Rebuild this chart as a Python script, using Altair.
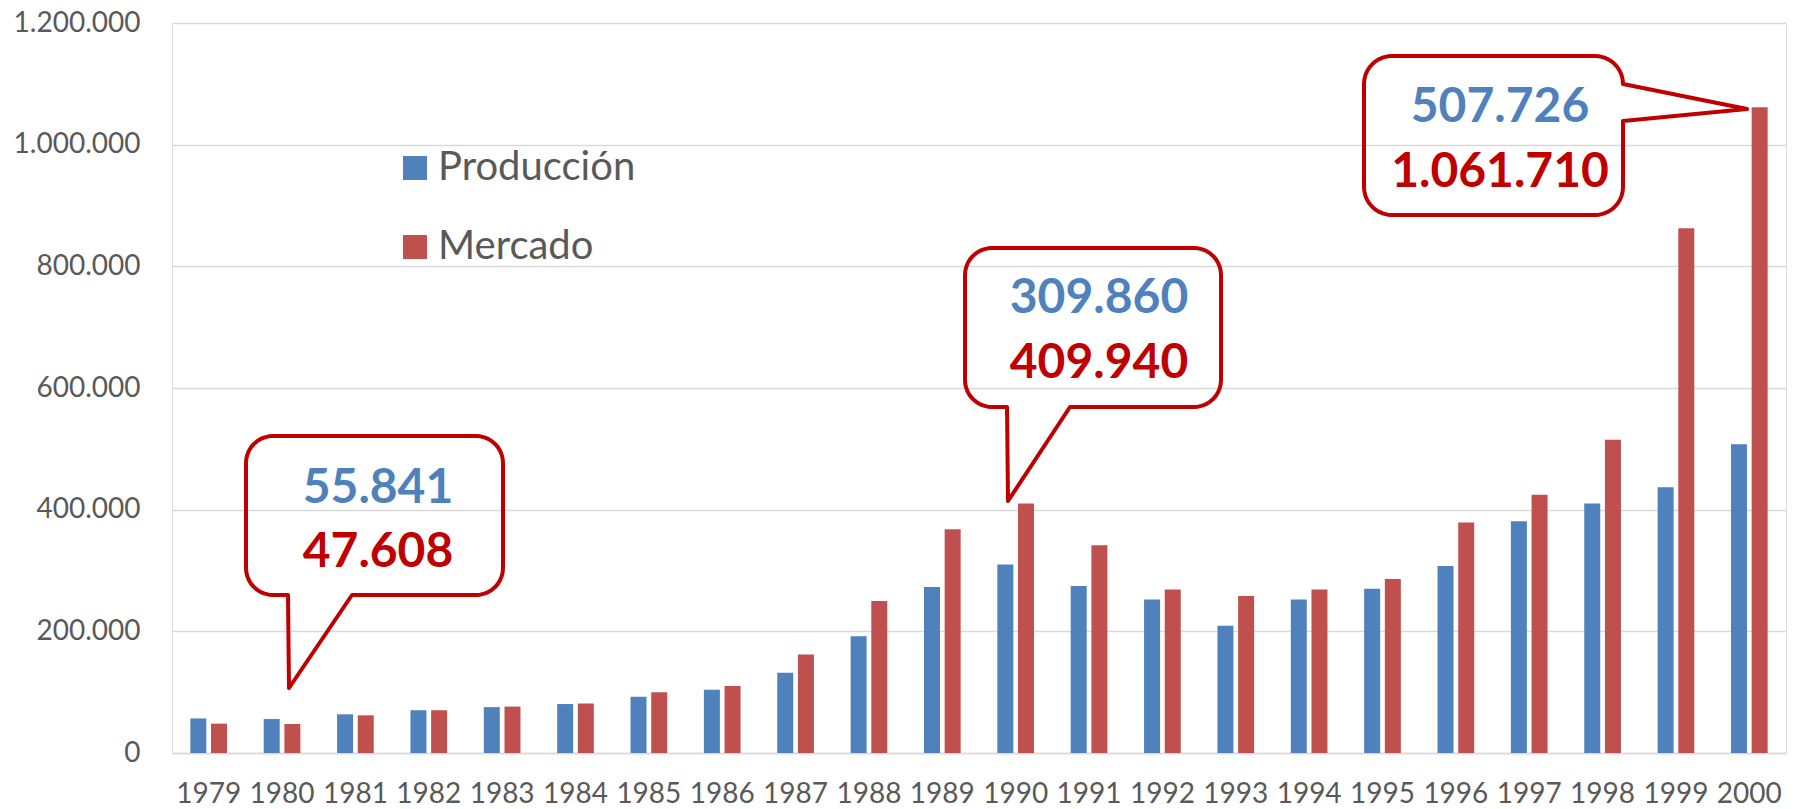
import math
import altair as alt
import pandas as pd

# ---- data ----
years = ["1979", "1980", "1981", "1982", "1983", "1984", "1985", "1986", "1987", "1988", "1989",
         "1990", "1991", "1992", "1993", "1994", "1995", "1996", "1997", "1998", "1999", "2000"]
produccion = [56800, 55841, 63600, 70300, 75400, 80500, 92400, 104000, 132000, 192000, 273000,
              309860, 274600, 252500, 209000, 252500, 270000, 307600, 381000, 410000, 437000, 507726]
mercado = [48300, 47608, 61900, 70300, 76300, 81400, 100000, 110000, 162000, 250000, 368000,
           409940, 341500, 268600, 258000, 268600, 286000, 378800, 424600, 515000, 862700, 1061710]
series = ["Producción", "Mercado"]
colors = ["#4F81BD", "#C0504D"]
y_ticks = [0, 200000, 400000, 600000, 800000, 1000000, 1200000]
callout_years = ["1980", "1990", "2000"]

FONT = "Lato"
W, H = 1614, 730
OX, OY = 172, 23  # plot origin on page (padding + 8px page margin)

rows = []
for i, y in enumerate(years):
    rows.append({"year": y, "serie": series[0], "value": produccion[i]})
    rows.append({"year": y, "serie": series[1], "value": mercado[i]})
df = pd.DataFrame(rows)


def fmt(v):
    return f"{v:,}".replace(",", ".")


bars = alt.Chart(df).mark_bar().encode(
    x=alt.X("year:N", sort=years, title=None,
            scale=alt.Scale(paddingInner=0.5, paddingOuter=0.25),
            axis=alt.Axis(labelAngle=0, labelFont=FONT, labelFontSize=28, labelColor="#595959",
                          ticks=False, tickSize=0, labelPadding=27, domainColor="#D9D9D9",
                          domainWidth=1.3, grid=False)),
    xOffset=alt.XOffset("serie:N", sort=series,
                        scale=alt.Scale(paddingInner=0.227, paddingOuter=0)),
    y=alt.Y("value:Q", title=None,
            scale=alt.Scale(domain=[0, 1200000], nice=False),
            axis=alt.Axis(values=y_ticks, labelFont=FONT, labelFontSize=28, labelColor="#595959",
                          ticks=False, tickSize=0, labelPadding=32, domain=False,
                          gridColor="#D9D9D9", gridWidth=1.3,
                          labelExpr="replace(format(datum.value, ','), regexp(',', 'g'), '.')")),
    color=alt.Color("serie:N", sort=series,
                    scale=alt.Scale(domain=series, range=colors),
                    legend=alt.Legend(title=None, orient="none", legendX=223, legendY=125,
                                      direction="vertical", symbolType="square",
                                      symbolSize=576, symbolStrokeWidth=0, symbolOffset=0,
                                      labelFont=FONT, labelFontSize=40, labelColor="#595959",
                                      labelOffset=3, rowPadding=39, padding=0,
                                      labelLimit=400)),
)


# ---- callout geometry (annotation shapes, page pixels) ----
def arc(cx, cy, r, a0, a1, n=10):
    pts = []
    for k in range(n + 1):
        a = math.radians(a0 + (a1 - a0) * k / n)
        pts.append([cx + r * math.cos(a), cy + r * math.sin(a)])
    return pts


def bubble_down(L, R, T, B, r, pl, pr, tip):
    pts = []
    pts += arc(L + r, T + r, r, 180, 270)
    pts += arc(R - r, T + r, r, 270, 360)
    pts += arc(R - r, B - r, r, 0, 90)
    pts += [[pr, B], list(tip), [pl, B]]
    pts += arc(L + r, B - r, r, 90, 180)
    pts.append(pts[0])
    return pts


def bubble_right(L, R, T, B, r, pb, tip):
    pts = []
    pts += arc(L + r, T + r, r, 180, 270)
    pts += arc(R - r, T + r, r, 270, 360)
    pts += [list(tip), [R, pb]]
    pts += arc(R - r, B - r, r, 0, 90)
    pts += arc(L + r, B - r, r, 90, 180)
    pts.append(pts[0])
    return pts


shapes = [
    bubble_down(246, 503, 436, 595, 27, 288, 352, (289, 688)),
    bubble_down(965, 1221, 248, 407, 27, 1007, 1070, (1008, 501)),
    bubble_right(1364, 1623, 56, 215, 28, 121, (1747, 109)),
]
features = []
for s in shapes:
    features.append({"type": "Feature", "properties": {},
                     "geometry": {"type": "Polygon",
                                  "coordinates": [[[p[0] - OX, p[1] - OY] for p in s]]}})

bubbles = alt.Chart(alt.Data(values=features)).mark_geoshape(
    filled=False, fill="transparent", stroke="#C00000", strokeWidth=4, strokeJoin="round"
).project(type="identity", scale=1, translate=[0, 0])

# text positions (center x, cap-bottom y) in page pixels
text_pos = {"1980": (378, 503, 567), "1990": (1099, 313, 378), "2000": (1500, 122, 187)}
texts = []
for yr in callout_years:
    i = years.index(yr)
    cx, yb1, yb2 = text_pos[yr]
    for val, col, yb in [(produccion[i], "#4F81BD", yb1), (mercado[i], "#C00000", yb2)]:
        texts.append(
            alt.Chart(pd.DataFrame({"label": [fmt(val)]})).mark_text(
                font=FONT, fontSize=48, fontWeight="bold", color=col,
                align="center", baseline="alphabetic"
            ).encode(x=alt.value(cx - OX), y=alt.value(yb - OY), text="label:N")
        )

chart = alt.layer(bars, bubbles, *texts).properties(
    width=W, height=H,
    padding={"left": 164, "top": 15, "right": 6, "bottom": 55},
    autosize=alt.AutoSizeParams(type="none"),
).configure_view(stroke=None).configure(background="white")

chart.save("out.html", embed_options={"renderer": "svg", "actions": False})
